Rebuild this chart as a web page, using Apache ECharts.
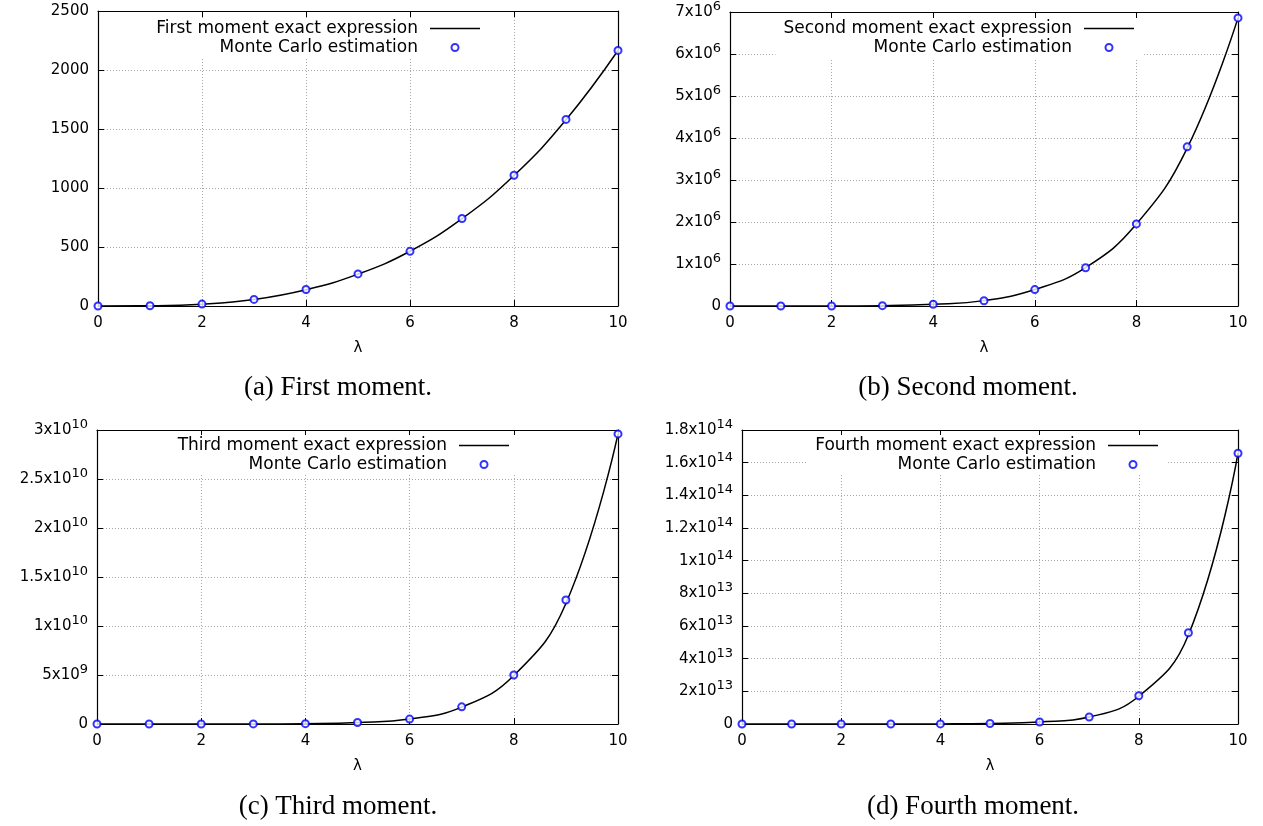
<!DOCTYPE html>
<html><head><meta charset="utf-8">
<script src="https://cdn.jsdelivr.net/npm/echarts/dist/echarts.min.js"></script>
<style>html,body{margin:0;padding:0;background:#fff}#c{width:1263px;height:826px}</style>
</head><body><div id="c"></div>
<script>
// ---- data ----
const lambda = [0, 1, 2, 3, 4, 5, 6, 7, 8, 9, 10];

const firstExact  = [0, 2, 15, 55, 138, 270, 464, 740, 1106, 1578, 2165];
const firstMC     = [0, 2, 16, 56, 140, 272, 463, 742, 1108, 1581, 2166];

const secondExact = [0, 100, 1200, 8000, 40000, 128000, 392000, 912000, 1950000, 3760000, 6860000];
const secondMC    = [0, 100, 1200, 8000, 42000, 126000, 390000, 910000, 1955000, 3790000, 6860000];

const thirdExact  = [0, 1e4, 5e5, 6e6, 3.5e7, 1.5e8, 5.1e8, 1.72e9, 4.95e9, 12.3e9, 29.6e9];
const thirdMC     = [0, 1e4, 5e5, 6e6, 3.5e7, 1.5e8, 5.0e8, 1.75e9, 5.0e9, 12.65e9, 29.6e9];

const fourthExact = [0, 1e7, 6e8, 8e9, 6e10, 3e11, 1.2e12, 4.3e12, 17.0e12, 54.5e12, 165.8e12];
const fourthMC    = [0, 1e7, 6e8, 8e9, 6e10, 3e11, 1.2e12, 4.3e12, 17.3e12, 55.9e12, 165.8e12];

const xTicks = [0, 2, 4, 6, 8, 10];
const yMax = [2500, 7e6, 3e10, 1.8e14];
const yStep = [500, 1e6, 5e9, 2e13];
const exactNames = ['First moment exact expression', 'Second moment exact expression',
                    'Third moment exact expression', 'Fourth moment exact expression'];
const mcName = 'Monte Carlo estimation';
const captions = ['(a) First moment.', '(b) Second moment.', '(c) Third moment.', '(d) Fourth moment.'];
const exactSets = [firstExact, secondExact, thirdExact, fourthExact];
const mcSets = [firstMC, secondMC, thirdMC, fourthMC];

// ---- layout ----
const W = 1263, H = 826;
const grids = [
  {left: 98,  right: W - 618,  top: 11,  bottom: H - 306},
  {left: 730, right: W - 1238, top: 11,  bottom: H - 306},
  {left: 97,  right: W - 618,  top: 430, bottom: H - 724},
  {left: 742, right: W - 1238, top: 430, bottom: H - 724}
];
const legendRight = [W - 490, W - 1144, W - 519, W - 1168];
const legendTop = [18, 18, 435, 435];
const capPos = [[338, 388], [968, 388], [338, 807], [973, 807]];

function fmtY(v) {
  if (v === 0) return '0';
  if (v < 1e5) return String(v);
  const e = Math.floor(Math.log10(v) + 1e-9);
  let m = v / Math.pow(10, e);
  m = Math.round(m * 10) / 10;
  return m + 'x10{s|' + e + '}';
}

const sans = 'DejaVu Sans';
const axisLine = {show: true, onZero: false, lineStyle: {color: '#000', width: 1.2}};
const tick = {show: true, inside: true, length: 6, lineStyle: {color: '#000', width: 1}};
const split = {show: true, lineStyle: {color: '#a8a8a8', width: 1, type: [1, 2]}};
const lineIcon = 'path://M0,0H50V1.6H0Z';

const xAxis = [], yAxis = [], series = [], legend = [], graphic = [];
for (let i = 0; i < 4; i++) {
  xAxis.push({
    gridIndex: i, type: 'value', min: 0, max: 10, interval: 2, position: 'bottom',
    axisLine, axisTick: tick, splitLine: split,
    axisLabel: {fontFamily: sans, fontSize: 15, color: '#000', margin: 10, showMinLabel: true, showMaxLabel: true,
      formatter: v => xTicks.indexOf(v) >= 0 ? String(v) : ''},
    name: 'λ', nameLocation: 'middle', nameGap: 35,
    nameTextStyle: {fontFamily: sans, fontSize: 15, color: '#000'}
  });
  xAxis.push({
    gridIndex: i, type: 'value', min: 0, max: 10, interval: 2, position: 'top',
    axisLine, axisTick: tick, splitLine: {show: false}, axisLabel: {show: false}
  });
  yAxis.push({
    gridIndex: i, type: 'value', min: 0, max: yMax[i], interval: yStep[i], position: 'left',
    axisLine, axisTick: tick, splitLine: split,
    axisLabel: {fontFamily: sans, fontSize: 15, lineHeight: 16, color: '#000', margin: 9,
      showMinLabel: true, showMaxLabel: true, formatter: fmtY,
      rich: {s: {fontFamily: sans, fontSize: 13, lineHeight: 12, padding: [0, 0, 11, 0], color: '#000'}}}
  });
  yAxis.push({
    gridIndex: i, type: 'value', min: 0, max: yMax[i], interval: yStep[i], position: 'right',
    axisLine, axisTick: tick, splitLine: {show: false}, axisLabel: {show: false}
  });
  series.push({
    name: exactNames[i], type: 'line', xAxisIndex: 2 * i, yAxisIndex: 2 * i,
    data: lambda.map((x, j) => [x, exactSets[i][j]]),
    symbol: 'none', smooth: 0.45,
    lineStyle: {color: '#000', width: 1.5}, itemStyle: {color: '#000'},
    z: 3, animation: false
  });
  series.push({
    name: mcName, type: 'scatter', xAxisIndex: 2 * i, yAxisIndex: 2 * i,
    data: lambda.map((x, j) => [x, mcSets[i][j]]),
    symbol: 'emptyCircle', symbolSize: 7, clip: false,
    itemStyle: {color: '#0000ff', borderColor: '#0000ff', borderWidth: 1.1},
    z: 4, animation: false
  });
  legend.push({
    orient: 'vertical', align: 'right', right: legendRight[i], top: legendTop[i],
    padding: [1, 10, 1, 8], itemGap: 0, itemWidth: 50, itemHeight: 7,
    backgroundColor: '#fff', selectedMode: false,
    textStyle: {fontFamily: sans, fontSize: 17, lineHeight: 19, color: '#000', padding: [0, 7, 0, 0]},
    data: [{name: exactNames[i], icon: lineIcon, itemStyle: {color: '#000'}},
           {name: mcName, icon: 'emptyCircle'}]
  });
  graphic.push({
    type: 'text', x: capPos[i][0], y: capPos[i][1],
    style: {text: captions[i], fontFamily: 'Liberation Serif', fontSize: 27, fill: '#000',
      align: 'center', verticalAlign: 'middle'}
  });
}

const chart = echarts.init(document.getElementById('c'), null, {renderer: 'canvas'});
chart.setOption({
  backgroundColor: '#fff', animation: false,
  grid: grids, xAxis, yAxis, series, legend, graphic
});
</script></body></html>
